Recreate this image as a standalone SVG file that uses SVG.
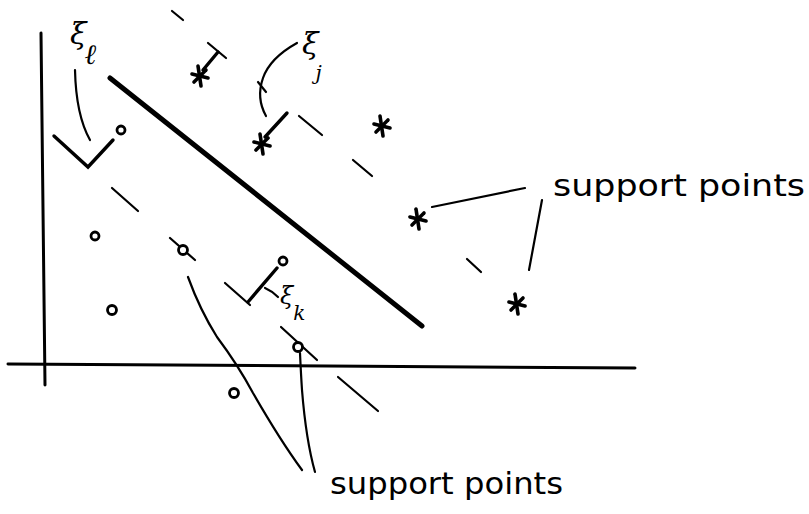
<svg xmlns="http://www.w3.org/2000/svg" width="809" height="514" viewBox="0 0 809 514">
<style>
.ax{stroke:#000;stroke-width:3;fill:none;stroke-linecap:round}
.main{stroke:#000;stroke-width:5;fill:none;stroke-linecap:round}
.dash{stroke:#000;stroke-width:2.2;fill:none;stroke-linecap:round}
.lead{stroke:#000;stroke-width:2.2;fill:none;stroke-linecap:round}
.perp{stroke:#000;stroke-width:3.4;fill:none;stroke-linecap:round}
.pt{stroke:#000;stroke-width:2.8;fill:#fff}
.star{stroke:#000;stroke-width:3.6;fill:none;stroke-linecap:round}
.lbl{font-family:"DejaVu Serif","Liberation Serif",serif;font-style:italic;fill:#000}
.hand{font-family:"DejaVu Sans","Liberation Sans",sans-serif;fill:#000}
</style>
<defs>
<g id="st">
<line class="star" x1="-8" y1="-2" x2="8" y2="2"/>
<line class="star" x1="-2" y1="-10" x2="1" y2="10"/>
<line class="star" x1="-6" y1="6" x2="6" y2="-6"/>
</g>
</defs>
<g id="axes">
<path class="ax" d="M41,33 L45,385"/>
<path class="ax" d="M8,364 L635,368"/>
</g>
<g id="separator">
<path class="main" d="M110,78 L422,326"/>
</g>
<g id="margins">
<path class="dash" d="M172,11 L183,20"/>
<path class="dash" d="M208,43 L226,58"/>
<path class="dash" d="M299,116 L322,135"/>
<path class="dash" d="M353,160 L372,176"/>
<path class="dash" d="M467,259 L481,272"/>
<path class="dash" d="M112,188 L138,211"/>
<path class="dash" d="M170,238 L195,260"/>
<path class="dash" d="M225,283 L250,305"/>
<path class="dash" d="M281,327 L317,360"/>
<path class="dash" d="M338,377 L378,411"/>
</g>
<g id="connectors">
<path class="perp" d="M203,70 L218,52"/>
<path class="perp" d="M265,137 L287,113"/>
<path class="perp" d="M54,136 L88,167 L113,140"/>
<path class="perp" d="M277,268 L248,302"/>
<path class="lead" d="M265,288 Q272,291 278,297"/>
<path class="lead" d="M297,43 Q270,58 263,78 Q256,98 266,116"/>
<path class="lead" d="M258,82 L266,92"/>
<path class="lead" d="M75,70 Q76,115 90,140"/>
<path class="lead" d="M432,207 L525,188"/>
<path class="lead" d="M542,200 L529,270"/>
<path class="lead" d="M188,277 Q200,310 217,337 Q238,365 253,393 Q280,440 302,470"/>
<path class="lead" d="M300,353 Q301,375 302,390 Q306,440 315,472"/>
</g>
<g id="stars">
<use href="#st" x="200" y="76"/>
<use href="#st" x="262" y="144"/>
<use href="#st" x="382" y="126"/>
<use href="#st" x="418" y="219"/>
<use href="#st" x="517" y="304"/>
</g>
<g id="circles">
<circle class="pt" cx="121" cy="130" r="4"/>
<circle class="pt" cx="95" cy="236" r="4"/>
<circle class="pt" cx="183" cy="250" r="4.5"/>
<circle class="pt" cx="112" cy="310" r="4.5" stroke-width="3.8"/>
<circle class="pt" cx="283" cy="261" r="4"/>
<circle class="pt" cx="298" cy="347" r="4.5" stroke-width="3.8"/>
<circle class="pt" cx="234" cy="393" r="4.5"/>
</g>
<g id="label-xi-l">
<text class="lbl" x="70" y="44" font-size="30">ξ<tspan font-size="28" dx="-2" dy="20">ℓ</tspan></text>
</g>
<g id="label-xi-j">
<text class="lbl" x="302" y="54" font-size="30">ξ<tspan font-size="20" dx="-3" dy="26">j</tspan></text>
</g>
<g id="label-xi-k">
<text class="lbl" x="280" y="304" font-size="24">ξ<tspan font-size="20" dx="0" dy="16">k</tspan></text>
</g>
<g id="label-support-top">
<text class="hand" x="553" y="196" font-size="30" textLength="252" lengthAdjust="spacingAndGlyphs">support points</text>
</g>
<g id="label-support-bottom">
<text class="hand" x="330" y="494" font-size="30" textLength="233" lengthAdjust="spacingAndGlyphs">support points</text>
</g>
</svg>
